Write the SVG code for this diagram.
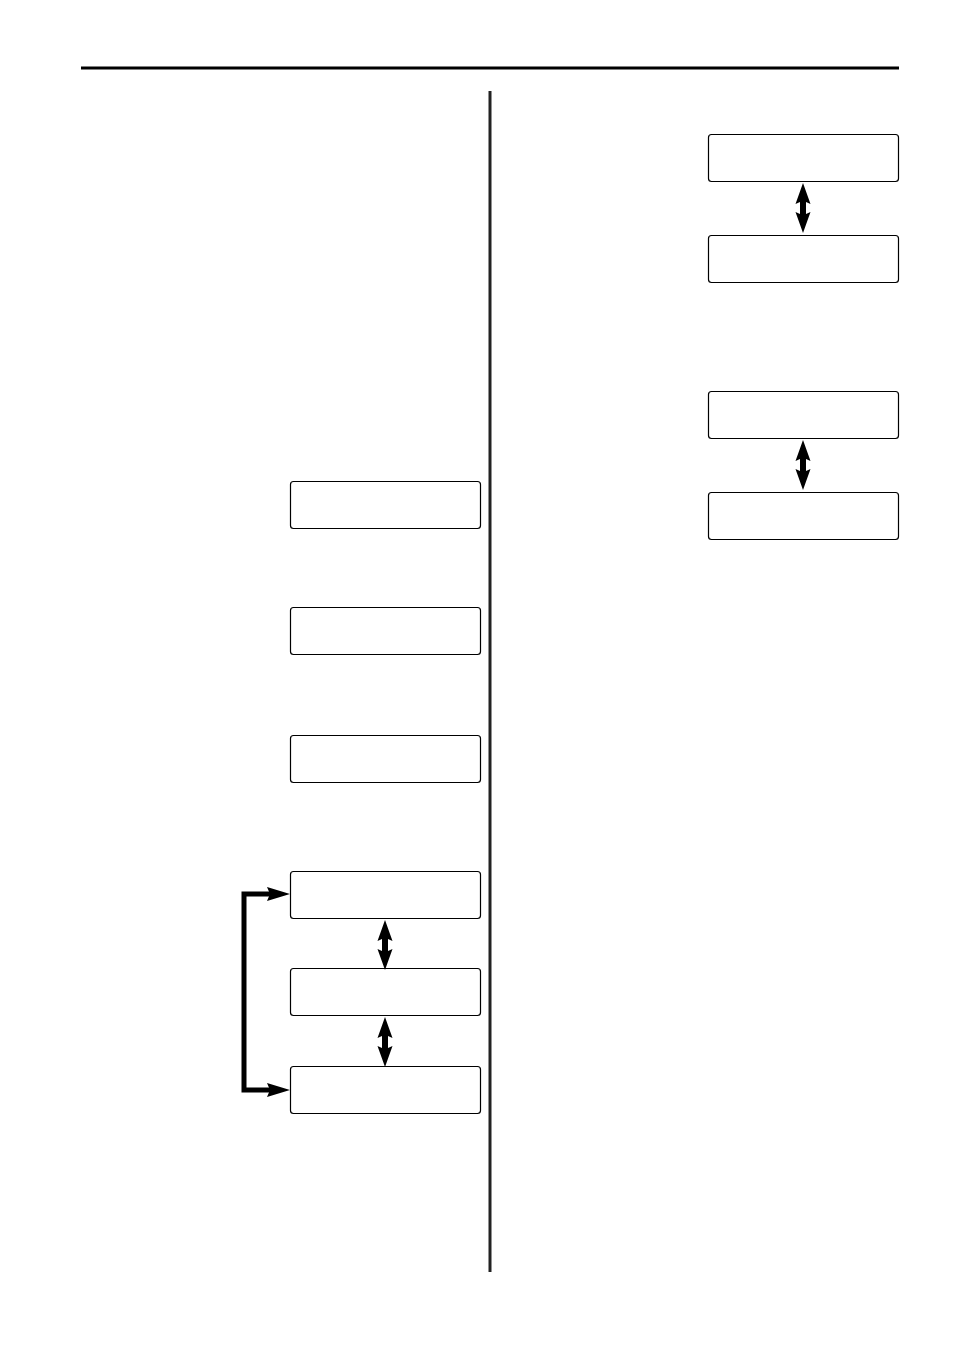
<svg xmlns="http://www.w3.org/2000/svg" width="954" height="1350" viewBox="0 0 954 1350">
<defs>
<style>
.box{fill:#fff;stroke:#000;stroke-width:1.2}
.line{stroke:#000;fill:none}
</style>
<polygon id="dbl" points="0,0 7.5,21 3,19 3,31 7.5,29 0,50 -7.5,29 -3,31 -3,19 -7.5,21" fill="#000"/>
</defs>
<rect width="954" height="1350" fill="#fff"/>
<line x1="81" y1="68" x2="899" y2="68" stroke="#000" stroke-width="3"/>
<line x1="490" y1="91" x2="490" y2="1272" stroke="#222" stroke-width="3"/>
<g id="nodes">
<g id="r1"><rect class="box" x="708.5" y="134.5" width="190" height="47" rx="3"/></g>
<g id="r2"><rect class="box" x="708.5" y="235.5" width="190" height="47" rx="3"/></g>
<g id="r3"><rect class="box" x="708.5" y="391.5" width="190" height="47" rx="3"/></g>
<g id="r4"><rect class="box" x="708.5" y="492.5" width="190" height="47" rx="3"/></g>
<g id="l1"><rect class="box" x="290.5" y="481.5" width="190" height="47" rx="3"/></g>
<g id="l2"><rect class="box" x="290.5" y="607.5" width="190" height="47" rx="3"/></g>
<g id="l3"><rect class="box" x="290.5" y="735.5" width="190" height="47" rx="3"/></g>
<g id="l4"><rect class="box" x="290.5" y="871.5" width="190" height="47" rx="3"/></g>
<g id="l5"><rect class="box" x="290.5" y="968.5" width="190" height="47" rx="3"/></g>
<g id="l6"><rect class="box" x="290.5" y="1066.5" width="190" height="47" rx="3"/></g>
</g>
<g id="connectors">
<use href="#dbl" x="803" y="183"/>
<use href="#dbl" x="803" y="440"/>
<use href="#dbl" x="385" y="920"/>
<use href="#dbl" x="385" y="1017"/>
<polyline class="line" points="272,894 244,894 244,1090 272,1090" stroke-width="5"/>
<polygon points="290,894 267,887 270,894 267,901" fill="#000"/>
<polygon points="290,1090 267,1083 270,1090 267,1097" fill="#000"/>
</g>
</svg>
